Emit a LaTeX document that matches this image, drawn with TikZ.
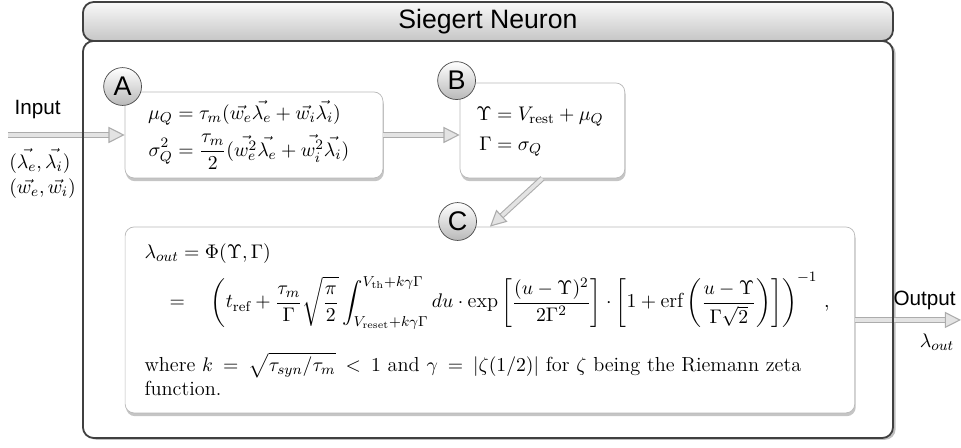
\documentclass[tikz,border=0pt]{standalone}
\usepackage{amsmath}
\usepackage{amssymb}
\usepackage{fontspec}
\setsansfont{Liberation Sans}
\usepackage{tikz}
\usetikzlibrary{positioning}
\usetikzlibrary{arrows.meta}
\usetikzlibrary{shadows}

\begin{document}
\begin{tikzpicture}[
    font=\fontsize{11.3}{13.8}\selectfont,
    frame/.style={draw=black!75, line width=1pt, rounded corners=6pt, outer sep=0pt},
    box/.style={draw=gray!55, fill=white, rounded corners=5pt,
        drop shadow={shadow xshift=0.5pt, shadow yshift=-1.8pt, opacity=0.45}},
    tag/.style={circle, draw=black!70, top color=white, bottom color=gray!55,
        minimum size=0.74cm, inner sep=0pt, font=\sffamily\fontsize{15}{17}\selectfont},
    flow/.style={draw=gray!65, double=gray!22, double distance=2pt, line width=0.6pt,
        -{Triangle[length=9pt, width=9pt, fill=gray!22]}},
    lbl/.style={font=\sffamily\fontsize{11.5}{13}\selectfont}
]
    \useasboundingbox (0,0) rectangle (18.78,8.754);

    % Outer frame (neuron)
    \node[frame, draw=none, fill=white, minimum width=15.83cm, minimum height=7.76cm,
        drop shadow={shadow xshift=1.5pt, shadow yshift=-1pt, opacity=0.5}] (body) at (9.536,4.074) {};

    % Boxes A, B, C
    \node[box, text width=4.14cm, inner xsep=0.45cm, minimum height=1.68cm] (A) at (4.963,6.116)
        {$\begin{aligned}
            \mu_Q &= \tau_m(\vec{w_e}\vec{\lambda_e} + \vec{w_i}\vec{\lambda_i})\\
            \sigma_Q^2 &= \frac{\tau_m}{2}(\vec{w_e^2}\vec{\lambda_e} + \vec{w_i^2}\vec{\lambda_i})
        \end{aligned}$};
    \node[box, text width=2.58cm, inner xsep=0.32cm, minimum height=1.856cm] (B) at (10.60,6.204)
        {$\begin{aligned}
            \Upsilon &= V_{\mathrm{rest}} + \mu_Q\\
            \Gamma &= \sigma_Q
        \end{aligned}$};
    \node[box, text width=13.5cm, inner xsep=0.38cm, minimum height=3.634cm] (C) at (9.575,2.501)
        {$\lambda_{out} = \Phi(\Upsilon,\Gamma)$\\[4pt]
        \hspace*{14pt}$\displaystyle = \quad\left(t_{\mathrm{ref}} + \frac{\tau_m}{\Gamma}\sqrt{\frac{\pi}{2}}
            \int_{V_{\mathrm{reset}}+k\gamma\Gamma}^{V_{\mathrm{th}}+k\gamma\Gamma} du\cdot
            \exp\left[\frac{(u-\Upsilon)^2}{2\Gamma^2}\right]\cdot
            \left[1+\mathrm{erf}\left(\frac{u-\Upsilon}{\Gamma\sqrt{2}}\right)\right]\right)^{-1} \,,$\\[12pt]
        where $k = \sqrt{\tau_{syn}/\tau_m} < 1$ and $\gamma = |\zeta(1/2)|$ for $\zeta$ being the Riemann zeta function.};

    % Arrows
    \coordinate (in) at (0.156,6.116);
    \coordinate (out) at (18.78,2.501);
    \draw[flow] (in) -- (A.west);
    \draw[flow] (A.east) -- (A.east -| B.west);
    \draw[flow] (B.south) -- (C.north);
    \draw[flow] (C.east) -- (out);

    % Frame border and title bar
    \draw[frame] (body.south west) rectangle (body.north east);
    \node[frame, top color=gray!5, bottom color=gray!45, minimum width=15.83cm, minimum height=0.762cm,
        font=\sffamily\fontsize{14.8}{17}\selectfont] (title) at (9.536,8.334) {Siegert Neuron};

    % Step tags
    \node[tag] (tA) at ([shift={(-0.04,0.1)}]A.north west) {A};
    \node[tag] (tB) at ([shift={(-0.06,0.04)}]B.north west) {B};
    \node[tag] (tC) at ([shift={(-0.04,0.1)}]C.north -| B.west) {C};

    % Input / output labels
    \node[lbl, anchor=west] (inlbl) at (0.16,6.605) {Input};
    \node[anchor=west, inner sep=1pt] (lin) at (0.14,5.608) {$(\vec{\lambda_e},\vec{\lambda_i})$};
    \node[anchor=west, inner sep=1pt] (win) at (0.14,5.061) {$(\vec{w_e},\vec{w_i})$};
    \node[lbl] (outlbl) at (18.07,2.892) {Output};
    \node (lout) at (18.31,2.071) {$\lambda_{out}$};
\end{tikzpicture}
\end{document}
